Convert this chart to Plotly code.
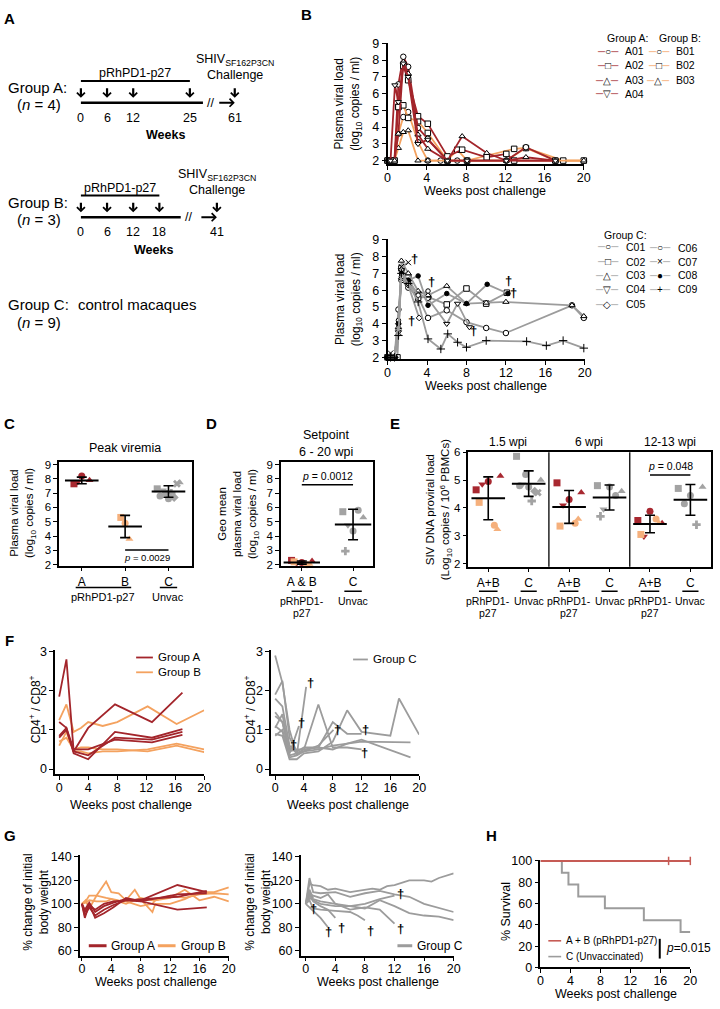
import numpy as np
import plotly.graph_objects as go

W, H = 720, 1009
FONT = "Liberation Sans, Arial, Helvetica, sans-serif"

RED = "#a3252b"
ORANGE = "#f4a25f"
GRAY = "#9c9c9c"
SURV_RED = "#c65b55"
PT_RED = "#a82830"
PT_ORANGE = "#f5b07c"
PT_GRAY = "#a3a3a3"

# ---------------- data ----------------
# A - immunisation schedules (weeks)
SCHED_A_WEEKS = [0, 6, 12, 25]
SCHED_A_CHALLENGE = 61
SCHED_B_WEEKS = [0, 6, 12, 18]
SCHED_B_CHALLENGE = 41

# B - plasma viral load (log10 copies / ml), vaccinated animals
A01_WK = [0, 0.3, 0.7, 1.1, 1.6, 2.1, 3.1, 4.1, 6.1, 8.1, 12.1, 14.1, 17.1]
A01_VL = [2, 2, 2, 6.55, 8.2, 7.6, 3.95, 3.3, 2, 2, 2, 2.8, 2]
A02_WK = [0, 0.3, 0.7, 1.1, 1.6, 2.1, 3.1, 4.1, 6.1, 7.6, 10.1, 12.1, 12.9, 17.1]
A02_VL = [2, 2, 2, 5.2, 7.65, 6.8, 4.65, 4.2, 2.25, 2.65, 2.2, 2.4, 2, 2]
A03_WK = [0, 0.3, 0.7, 1.1, 1.6, 2.1, 3.1, 4.1, 6.1, 7.6, 10.1, 12.1, 14.1, 17.1]
A03_VL = [2, 2, 2, 3.6, 7.9, 7.2, 3.55, 2.7, 2, 3.45, 2.45, 2, 2.2, 2]
A04_WK = [0, 0.3, 0.75, 1.1, 1.6, 2.1, 3.1, 4.1, 6.1, 8.1, 12.1, 17.1]
A04_VL = [2, 2, 6.5, 5.5, 7.8, 7.0, 3.0, 3.25, 2, 2, 2, 2]
B01_WK = [0, 0.3, 0.7, 1.1, 1.6, 2.1, 3.1, 4.1, 5.4, 7.1, 8.1, 12.1, 14.1, 17.1, 20]
B01_VL = [2, 2, 2, 3.6, 4.6, 4.9, 3.1, 2, 2, 2, 2, 2, 2.75, 2, 2]
B02_WK = [0, 0.3, 0.7, 1.1, 1.6, 2.1, 3.1, 4.1, 6.1, 7.1, 8.1, 12.9, 14.1, 17.9, 20]
B02_VL = [2, 2, 2, 5.2, 5.3, 4.55, 4.35, 3.65, 2, 2.65, 2, 2.7, 2.75, 2, 2]
B03_WK = [0, 0.3, 0.7, 1.1, 1.6, 2.1, 3.1, 4.1, 6.1, 8.1, 12.1, 17.1, 20]
B03_VL = [2, 2, 2, 2.75, 3.7, 3.8, 2, 2, 2, 2, 2, 2, 2]

# B - plasma viral load, control animals
C01_WK = [0, 0.3, 0.7, 1.1, 1.4, 2.1, 3.1, 4.1, 6.0, 8.0, 10.0, 12.0, 18.7, 19.9]
C01_VL = [2, 2, 2, 4.85, 6.6, 6.15, 5.6, 4.35, 4.8, 4.1, 3.75, 3.45, 5.1, 4.35]
C02_WK = [0, 0.3, 0.7, 1.0, 1.4, 2.1, 3.1, 4.1, 6.0, 8.0, 10.0, 12.1]
C02_VL = [2, 2, 2, 2, 7.3, 6.75, 5.55, 5.6, 5.15, 6.1, 5.2, 5.85]
C03_WK = [0, 0.3, 0.7, 1.1, 1.4, 2.1, 3.1, 4.1, 6.0, 8.0, 10.0, 12.0, 18.7, 19.9]
C03_VL = [2, 2, 2, 3.8, 7.75, 7.0, 5.95, 5.7, 6.25, 5.2, 5.25, 5.3, 5.1, 4.45]
C04_WK = [0, 0.3, 0.7, 1.1, 1.4, 2.1, 3.1, 4.1, 6.0, 7.1, 8.3]
C04_VL = [2, 2, 2, 3.5, 7.2, 6.5, 5.8, 5.5, 4.0, 5.2, 3.8]
C05_WK = [0, 0.3, 0.7, 1.1, 1.4, 2.1, 3.2]
C05_VL = [2, 2, 2, 4.0, 6.7, 6.3, 4.35]
C06_WK = [0, 0.3, 0.7, 1.1, 1.4, 2.1, 3.1, 4.1]
C06_VL = [2, 2, 2, 4.2, 6.8, 6.4, 5.7, 5.95]
C07_WK = [0, 0.3, 0.7, 1.1, 1.4, 2.1]
C07_VL = [2, 2.25, 2, 3.5, 7.4, 7.65]
C08_WK = [0, 0.3, 0.7, 1.1, 1.4, 2.1, 3.1, 4.1, 6.0, 8.0, 10.1, 12.2]
C08_VL = [2, 2, 2, 4.0, 7.0, 6.6, 6.85, 5.1, 5.8, 5.2, 6.35, 5.8]
C09_WK = [0, 0.3, 0.7, 1.1, 1.4, 2.1, 3.1, 4.1, 5.4, 6.1, 7.1, 8.0, 10.0, 14.1, 16.1, 17.8, 19.9]
C09_VL = [2, 2, 2, 3.3, 7.0, 6.4, 5.3, 3.1, 2.5, 3.4, 2.9, 2.6, 3.0, 2.95, 2.7, 3.0, 2.55]
VL_DEATH_WK = [2.75, 2.45, 4.5, 8.75, 12.25, 12.8]
VL_DEATH_Y = [7.9, 4.2, 6.5, 3.6, 6.6, 5.85]

# C - peak viremia
PEAK_A = [8.2, 7.65, 7.9, 7.8]
PEAK_B = [4.9, 5.3, 3.8]
PEAK_C = [6.6, 7.3, 7.75, 7.2, 6.7, 6.8, 7.65, 7.0, 7.0]
PEAK_CATS = ["A", "B", "C"]

# D - set point (geo mean 6-20 wpi)
SET_AB = [2.15, 2.3, 2.25, 2.1, 2.0, 2.2, 2.05]
SET_C = [4.35, 5.7, 5.3, 4.75, 5.8, 2.95]
SET_C_ANIMALS = ["C01", "C02", "C03", "C04", "C08", "C09"]
SET_CATS = ["A & B", "C"]

# E - SIV DNA proviral load
PV_AB_15 = [4.95, 4.65, 5.15, 4.85, 3.38, 4.2, 3.24]
PV_C_15 = [4.75, 5.85, 5.0, 4.85, 4.6, 4.8, 4.55, 5.2, 4.25]
PV_C_15_ANIMALS = ["C01", "C02", "C03", "C04", "C05", "C06", "C07", "C08", "C09"]
PV_AB_6 = [4.3, 4.9, 4.55, 4.1, 3.45, 3.35, 3.6]
PV_C_6 = [4.75, 4.8, 4.6, 3.95, 4.45, 3.7]
PV_C_6_ANIMALS = ["C01", "C02", "C03", "C04", "C08", "C09"]
PV_AB_12 = [3.88, 3.55, 3.45, 2.98, 3.6, 3.05, 3.45]
PV_C_12 = [4.45, 4.7, 4.75, 4.15, 3.4]
PV_C_12_ANIMALS = ["C01", "C02", "C03", "C08", "C09"]
PV_SECTIONS = ["1.5 wpi", "6 wpi", "12-13 wpi"]
PV_CATS = ["A+B", "C", "A+B", "C", "A+B", "C"]

# F - CD4+/CD8+ ratio
FA_WK = [0, 1, 2, 4, 7.7, 12.8, 17]
FA1 = [1.85, 2.8, 0.45, 1.05, 1.65, 1.2, 1.95]
FA2 = [1.2, 1.05, 0.4, 0.25, 0.95, 0.8, 1.02]
FA3 = [0.8, 1.0, 0.45, 0.35, 0.8, 0.75, 0.95]
FA4 = [0.85, 1.05, 0.5, 0.5, 0.75, 0.68, 0.87]
FB_WK = [0, 1, 2, 3, 4, 6, 8, 12.2, 16.2, 20]
FB1 = [1.25, 1.65, 0.95, 1.05, 1.2, 1.1, 1.2, 1.6, 1.15, 1.5]
FB2 = [0.6, 0.95, 0.45, 0.45, 0.4, 0.45, 0.45, 0.5, 0.65, 0.5]
FB3 = [0.7, 0.8, 0.5, 0.55, 0.55, 0.5, 0.5, 0.45, 0.6, 0.43]
FC01_WK = [0, 1, 2, 3, 4, 6, 8, 10, 12, 16, 17.2, 20]
FC01 = [0.9, 0.85, 0.25, 0.25, 0.4, 0.45, 0.7, 1.5, 0.95, 0.85, 1.8, 0.88]
FC02_WK = [0, 1, 2, 3, 4, 6, 8, 10, 12]
FC02 = [1.9, 2.25, 0.8, 0.45, 0.55, 0.55, 1.2, 0.9, 0.9]
FC03_WK = [0, 1, 2, 3, 4, 6, 8, 10, 12, 18.8]
FC03 = [0.85, 1.0, 0.3, 0.35, 0.45, 0.5, 0.6, 0.65, 0.7, 0.68]
FC04_WK = [0, 1, 2, 3, 4, 6, 8.1]
FC04 = [1.8, 1.6, 0.6, 0.4, 0.45, 0.6, 1.0]
FC05_WK = [0, 1, 2, 3.3]
FC05 = [1.1, 0.95, 0.4, 1.1]
FC06_WK = [0, 1, 2, 3, 4.3]
FC06 = [2.9, 2.2, 1.0, 0.35, 2.1]
FC07_WK = [0, 1, 2, 2.5]
FC07 = [1.35, 1.2, 0.5, 0.55]
FC08_WK = [0, 1, 2, 3, 4, 6, 8, 10, 12]
FC08 = [1.45, 1.2, 0.35, 0.4, 0.5, 1.65, 0.55, 0.55, 0.5]
FC09_WK = [0, 1, 2, 3, 4, 6, 8, 10, 12, 18.8]
FC09 = [1.05, 1.4, 0.45, 0.5, 0.5, 0.55, 0.5, 0.65, 0.75, 0.3]
F_DEATH_WK = [4.9, 3.7, 2.6, 8.6, 12.5, 12.4]
F_DEATH_Y = [2.2, 1.2, 0.62, 1.0, 1.0, 0.42]

# G - body weight (% of initial)
GA_WK = [0, 0.4, 1, 1.8, 3, 4.3, 6, 8, 13, 17]
GA1 = [100, 88, 100, 88, 92, 97, 105, 102, 95, 97]
GA2 = [100, 95, 101, 93, 98, 101, 104, 103, 116, 110]
GA3 = [100, 90, 97, 90, 95, 99, 103, 102, 108, 109]
GA4 = [100, 93, 99, 95, 100, 102, 103, 104, 106, 111]
GB_WK = [0, 0.5, 1, 2, 3.3, 4, 5, 6, 7.2, 8, 9.6, 10, 12, 14, 16, 18, 20]
GB1 = [100, 102, 107, 107, 105, 104, 103, 102, 100, 98, 100, 103, 107, 105, 108, 109, 108]
GB2 = [100, 103, 96, 107, 119, 110, 109, 103, 112, 104, 93, 100, 100, 104, 110, 110, 114]
GB3 = [100, 101, 103, 102, 102, 104, 102, 100, 103, 105, 103, 103, 105, 112, 103, 106, 102]
GC01_WK = [0, 0.5, 1, 2, 3, 4, 6, 8, 9, 10, 11, 12, 14, 16, 17, 18, 20]
GC01 = [100, 117, 116, 115, 112, 113, 110, 112, 113, 112, 115, 116, 120, 120, 119, 122, 126]
GC02_WK = [0, 0.5, 1, 2, 3, 4, 6, 8, 10, 12]
GC02 = [100, 108, 107, 105, 108, 100, 95, 97, 95, 83]
GC03_WK = [0, 0.5, 1, 2, 4, 6, 8, 10, 12, 14, 16, 20]
GC03 = [100, 122, 110, 109, 110, 106, 109, 111, 108, 106, 100, 93]
GC04_WK = [0, 0.5, 1, 2, 4, 6, 7, 8]
GC04 = [100, 103, 96, 95, 94, 93, 90, 86]
GC05_WK = [0, 0.5, 1, 2, 3]
GC05 = [100, 97, 94, 88, 80]
GC06_WK = [0, 0.5, 1, 2, 3, 4]
GC06 = [100, 108, 102, 98, 95, 88]
GC07_WK = [0, 0.5, 1]
GC07 = [100, 112, 105]
GC08_WK = [0, 0.5, 1, 2, 4, 6, 8, 10, 12]
GC08 = [100, 110, 104, 102, 100, 98, 100, 104, 107]
GC09_WK = [0, 0.5, 1, 2, 4, 6, 8, 10, 12, 14, 16, 18, 20]
GC09 = [100, 105, 103, 100, 98, 98, 96, 103, 98, 92, 90, 89, 86]
G_DEATH_WK = [1.1, 3.1, 4.8, 8.8, 12.8, 12.8]
G_DEATH_Y = [96, 76, 80, 77, 109, 79]

# H - survival (%)
SURV_AB_WK = [0, 20]
SURV_AB = [100, 100]
SURV_AB_CENSOR_WK = [17.1, 20]
SURV_C_WK = [0, 2.86, 3.74, 5.05, 8.6, 13.8, 18.7, 20]
SURV_C = [100, 88.9, 77.8, 66.7, 55.6, 44.4, 33.3, 33.3]

# ---------------- styles ----------------
SYM = {"01": "circle", "02": "square", "03": "triangle-up", "04": "triangle-down",
       "05": "diamond", "06": "circle", "07": "x", "08": "circle", "09": "cross"}
GLYPH = {"01": "○", "02": "□", "03": "△", "04": "▽", "05": "◇", "06": "○",
         "07": "×", "08": "●", "09": "+"}


def xa(n):
    return "x" if n == 1 else "x%d" % n


def ya(n):
    return "y" if n == 1 else "y%d" % n


def fx(px):
    return px / W


def fy(py):
    return 1 - py / H


BASE_AX = dict(showline=True, linecolor="black", linewidth=1.6, ticks="outside",
               ticklen=4, tickwidth=1.4, tickcolor="black", showgrid=False,
               zeroline=False, fixedrange=True,
               tickfont=dict(size=12.5, color="black", family=FONT))
axes = {}


def add_axes(n, xd, yd, xr, yr, xkw=None, ykw=None):
    sx = "" if n == 1 else str(n)
    x = dict(BASE_AX, domain=[fx(xd[0]), fx(xd[1])], range=xr, anchor=ya(n))
    y = dict(BASE_AX, domain=[fy(yd[1]), fy(yd[0])], range=yr, anchor=xa(n))
    x.update(xkw or {})
    y.update(ykw or {})
    axes["xaxis" + sx] = x
    axes["yaxis" + sx] = y


WEEK_TICKS = dict(tickmode="array", tickvals=[0, 4, 8, 12, 16, 20])
WEEK_TICKS_TIGHT = dict(WEEK_TICKS, ticklabelstandoff=-3)
VL_TICKS = dict(tickmode="array", tickvals=[2, 3, 4, 5, 6, 7, 8, 9])
SMALL_FONT = dict(size=11.5, color="black", family=FONT)
CAT_FONT = dict(size=12, color="black", family=FONT)

add_axes(1, (390, 589), (37, 160), [0, 20], [1.8, 9.05], WEEK_TICKS_TIGHT, VL_TICKS)
add_axes(2, (390, 590), (236, 358), [0, 20], [1.88, 9.05], WEEK_TICKS_TIGHT, VL_TICKS)
add_axes(3, (57, 192), (462, 567), [-0.52, 2.55], [1.93, 9.17],
         dict(mirror=True, tickmode="array", tickvals=[0, 1, 2], ticktext=PEAK_CATS,
              tickfont=CAT_FONT),
         dict(VL_TICKS, mirror=True, tickfont=SMALL_FONT))
add_axes(4, (282, 375), (462, 567), [-0.404, 1.385], [1.93, 9.17],
         dict(mirror=True, tickmode="array", tickvals=[0, 1], ticktext=SET_CATS,
              tickfont=CAT_FONT),
         dict(VL_TICKS, mirror=True, tickfont=SMALL_FONT))
add_axes(5, (472, 718), (452, 568), [-0.49, 5.51], [1.894, 6.0],
         dict(mirror=True, tickmode="array", tickvals=list(range(6)), ticktext=PV_CATS,
              tickfont=CAT_FONT),
         dict(mirror=True, tickmode="array", tickvals=[2, 3, 4, 5, 6], tickfont=SMALL_FONT))
add_axes(6, (53, 204), (652, 778), [-0.54, 20], [-0.126, 3.05], WEEK_TICKS_TIGHT,
         dict(tickmode="array", tickvals=[0, 1, 2, 3]))
add_axes(7, (272, 422), (652, 778), [-0.55, 20], [-0.126, 3.05], WEEK_TICKS_TIGHT,
         dict(tickmode="array", tickvals=[0, 1, 2, 3]))
add_axes(8, (78, 229), (860, 962), [-0.27, 20], [55.8, 141.7], WEEK_TICKS_TIGHT,
         dict(tickmode="array", tickvals=[60, 80, 100, 120, 140]))
add_axes(9, (302, 457), (860, 962), [-0.67, 20], [55.8, 141.7], WEEK_TICKS_TIGHT,
         dict(tickmode="array", tickvals=[60, 80, 100, 120, 140]))
add_axes(10, (545, 697), (865, 974), [0, 20], [0, 101], WEEK_TICKS_TIGHT,
         dict(tickmode="array", tickvals=[0, 20, 40, 60, 80, 100]))
# hidden week scale for the schedule diagram in panel A
axes["xaxis11"] = dict(domain=[0, fx(270)], range=[-79 / 4.42, 191 / 4.42],
                       visible=False, anchor="y11", fixedrange=True)
axes["yaxis11"] = dict(domain=[fy(300), 1], range=[0, 1], visible=False,
                       anchor="x11", fixedrange=True)

fig = go.Figure()
ANN = []
SHP = []


def text(px, py, s, size=12.5, anchor="center", angle=0, color="black"):
    ANN.append(dict(x=fx(px), y=fy(py), xref="paper", yref="paper", text=s,
                    showarrow=False, xanchor=anchor, yanchor="middle", textangle=angle,
                    font=dict(size=size, color=color, family=FONT)))


def text_ax(n, x, py, s, size=12.5, anchor="center"):
    ANN.append(dict(x=x, y=fy(py), xref=xa(n), yref="paper", text=s, showarrow=False,
                    xanchor=anchor, yanchor="middle",
                    font=dict(size=size, color="black", family=FONT)))


def line_px(x0, y0, x1, y1, color="black", width=1.5):
    SHP.append(dict(type="line", xref="paper", yref="paper", x0=fx(x0), x1=fx(x1),
                    y0=fy(y0), y1=fy(y1), line=dict(color=color, width=width)))


def hline_ax(n, x0, x1, py, width=1.5):
    SHP.append(dict(type="line", xref=xa(n), yref="paper", x0=x0, x1=x1,
                    y0=fy(py), y1=fy(py), line=dict(color="black", width=width)))


def daggers(n, xs, ys, size=13):
    for x, y in zip(xs, ys):
        ANN.append(dict(x=x, y=y, xref=xa(n), yref=ya(n), text="<b>†</b>", showarrow=False,
                        font=dict(size=size, color="black", family=FONT)))


def arrow(x, py, ax, ay):
    ANN.append(dict(x=x, y=fy(py), xref="x11", yref="paper", ax=ax, ay=ay,
                    text="", showarrow=True, arrowhead=4, arrowsize=0.7,
                    arrowwidth=2.2, arrowcolor="black"))


# ---------------- A: schedule ----------------
def schedule(weeks, challenge, chal_x, line_end, y0, group, n_txt):
    # y0 = pixel row of the timeline
    bar_y, lab_y, arr_head, tick_y = y0 - 22, y0 - 30, y0 - 5, y0 + 15
    text(3, y0 - 15, group, size=15, anchor="left")
    text(12, y0 + 2, n_txt, size=15, anchor="left")
    SHP.append(dict(type="line", xref="x11", yref="paper", x0=weeks[0], x1=weeks[-1],
                    y0=fy(bar_y), y1=fy(bar_y), line=dict(color="black", width=2)))
    text_ax(11, (weeks[0] + weeks[-1]) / 2, lab_y, "pRhPD1-p27", size=12.5)
    for w in weeks + [chal_x]:
        arrow(w, arr_head, 0, -11)
    for w in weeks:
        text_ax(11, w, tick_y, str(w), size=12.5)
    text_ax(11, chal_x, tick_y, str(challenge), size=12.5)
    SHP.append(dict(type="line", xref="x11", yref="paper", x0=weeks[0], x1=line_end,
                    y0=fy(y0), y1=fy(y0), line=dict(color="black", width=2.4)))
    text_ax(11, line_end + 1.8, y0, "//", size=12.5)
    arrow(chal_x, y0, -17, 0)
    text_ax(11, chal_x, y0 - 43, "SHIV<sub>SF162P3CN</sub>", size=12.5)
    text_ax(11, chal_x, y0 - 28, "Challenge", size=12.5)


schedule(SCHED_A_WEEKS, SCHED_A_CHALLENGE, 35.3, 28.0, 98, "Group A:", "(<i>n</i> = 4)")
text(165, 131, "<b>Weeks</b>", size=12.5)
schedule(SCHED_B_WEEKS, SCHED_B_CHALLENGE, 31.2, 22.9, 214, "Group B:", "(<i>n</i> = 3)")
text(153, 247, "<b>Weeks</b>", size=12.5)
text(3, 302, "Group C:", size=15, anchor="left")
text(74, 302, "control macaques", size=15, anchor="left")
text(12, 321, "(<i>n</i> = 9)", size=15, anchor="left")


# ---------------- B: viral load ----------------
def vl_trace(n, wk, vl, color, key, fill="white", size=6):
    fig.add_trace(go.Scatter(
        x=wk, y=vl, mode="lines+markers", xaxis=xa(n), yaxis=ya(n),
        line=dict(color=color, width=1.8),
        marker=dict(symbol=SYM[key] if key != "07" else "x-thin", size=size, color=fill,
                    line=dict(color="black", width=1)),
        showlegend=False, cliponaxis=False, hoverinfo="skip"))


VAX_SERIES = [("01", B01_WK, B01_VL, ORANGE), ("02", B02_WK, B02_VL, ORANGE),
              ("03", B03_WK, B03_VL, ORANGE), ("01", A01_WK, A01_VL, RED),
              ("02", A02_WK, A02_VL, RED), ("03", A03_WK, A03_VL, RED),
              ("04", A04_WK, A04_VL, RED)]
for key, wk, vl, col in VAX_SERIES:
    vl_trace(1, wk, vl, col, key, size=5.5)

CTRL_SERIES = [("01", C01_WK, C01_VL), ("02", C02_WK, C02_VL), ("03", C03_WK, C03_VL),
               ("04", C04_WK, C04_VL), ("05", C05_WK, C05_VL), ("06", C06_WK, C06_VL),
               ("07", C07_WK, C07_VL), ("08", C08_WK, C08_VL), ("09", C09_WK, C09_VL)]
for key, wk, vl in CTRL_SERIES:
    if key == "09":
        fig.add_trace(go.Scatter(x=wk, y=vl, mode="lines+markers", xaxis="x2", yaxis="y2",
                                 line=dict(color=GRAY, width=1.8),
                                 marker=dict(symbol="cross-thin", size=6,
                                             line=dict(color="black", width=1)),
                                 showlegend=False, cliponaxis=False, hoverinfo="skip"))
    else:
        vl_trace(2, wk, vl, GRAY, key, fill="black" if key == "08" else "white",
                 size=4.5 if key in ("05", "06", "08") else 5.5)
daggers(2, VL_DEATH_WK, VL_DEATH_Y)

for cy in (99, 297):
    text(350, cy, "Plasma viral load<br>(log<sub>10</sub> copies / ml)", size=12, angle=-90)
text(489, 187, "Weeks post challenge", size=12.5)
text(490, 385, "Weeks post challenge", size=12.5)


def glyph(color, key):
    dash = '<span style="color:%s">─</span>' % color
    return dash + GLYPH[key] + dash


text(610, 32, "Group A:", size=10.5, anchor="left")
text(663, 32, "Group B:", size=10.5, anchor="left")
for i, py in enumerate([46, 60, 75, 89]):
    k = "0%d" % (i + 1)
    text(627, py, glyph(RED, k), size=10, anchor="right")
    text(629, py, "A" + k, size=10.5, anchor="left")
    if i < 3:
        text(678, py, glyph(ORANGE, k), size=10, anchor="right")
        text(680, py, "B" + k, size=10.5, anchor="left")
text(607, 232, "Group C:", size=10.5, anchor="left")
for i, py in enumerate([244, 259, 273, 287, 302]):
    k = "0%d" % (i + 1)
    text(627, py, glyph(GRAY, k), size=10, anchor="right")
    text(630, py, "C" + k, size=10.5, anchor="left")
for i, py in enumerate([245, 259, 273, 287]):
    k = "0%d" % (i + 6)
    text(679, py, glyph(GRAY, k), size=10, anchor="right")
    text(682, py, "C" + k, size=10.5, anchor="left")


# ---------------- C / D / E: dot plots ----------------
SPREAD = [0, -1, 1, -0.5, 0.5, -0.75, 0.75, -0.25, 0.25]


def dots(n, center, vals, syms, colors, half_width, bar=24):
    offs = [center + half_width * s for s in SPREAD[:len(vals)]]
    fig.add_trace(go.Scatter(x=offs, y=vals, mode="markers", xaxis=xa(n), yaxis=ya(n),
                             marker=dict(symbol=syms, color=colors, size=7,
                                         line=dict(width=0)),
                             showlegend=False, cliponaxis=False, hoverinfo="skip"))
    m = float(np.mean(vals))
    s = float(np.std(vals, ddof=1))
    fig.add_trace(go.Scatter(x=[center], y=[m], mode="markers", xaxis=xa(n), yaxis=ya(n),
                             marker=dict(symbol="line-ew", size=bar,
                                         line=dict(color="black", width=2)),
                             error_y=dict(type="data", array=[s], color="black",
                                          thickness=1.6, width=5),
                             showlegend=False, cliponaxis=False, hoverinfo="skip"))


AB_SYMS = [SYM["01"], SYM["02"], SYM["03"], SYM["04"], SYM["01"], SYM["02"], SYM["03"]]
AB_COLS = [PT_RED] * 4 + [PT_ORANGE] * 3
ALL_C = ["C01", "C02", "C03", "C04", "C05", "C06", "C07", "C08", "C09"]


def c_syms(animals):
    return [SYM[a[1:]] for a in animals]


dots(3, 0, PEAK_A, AB_SYMS[:4], AB_COLS[:4], 0.18)
dots(3, 1, PEAK_B, AB_SYMS[4:], AB_COLS[4:], 0.1)
dots(3, 2, PEAK_C, c_syms(ALL_C), [PT_GRAY] * 9, 0.26)

dots(4, 0, SET_AB, AB_SYMS, AB_COLS, 0.2, bar=26)
dots(4, 1, SET_C, c_syms(SET_C_ANIMALS), [PT_GRAY] * 6, 0.2, bar=26)

for i, (ab, cc, ca) in enumerate([(PV_AB_15, PV_C_15, PV_C_15_ANIMALS),
                                  (PV_AB_6, PV_C_6, PV_C_6_ANIMALS),
                                  (PV_AB_12, PV_C_12, PV_C_12_ANIMALS)]):
    dots(5, 2 * i, ab, AB_SYMS, AB_COLS, 0.3, bar=24)
    dots(5, 2 * i + 1, cc, c_syms(ca), [PT_GRAY] * len(cc), 0.3, bar=24)
    text_ax(5, 2 * i + 0.5, 442, PV_SECTIONS[i], size=12)
    hline_ax(5, 2 * i - 0.23, 2 * i + 0.23, 593)
    hline_ax(5, 2 * i + 0.8, 2 * i + 1.2, 593)
    text_ax(5, 2 * i, 603, "pRhPD1-", size=10.5)
    text_ax(5, 2 * i, 615, "p27", size=10.5)
    text_ax(5, 2 * i + 1, 603, "Unvac", size=10.5)
for xdiv in (1.5, 3.5):
    SHP.append(dict(type="line", xref="x5", yref="y5 domain", x0=xdiv, x1=xdiv, y0=0, y1=1,
                    line=dict(color="black", width=1.3)))

# C annotations
text(124, 448, "Peak viremia", size=12.5)
text(20, 514, "Plasma viral load<br>(log<sub>10</sub> copies / ml)", size=11.5, angle=-90)
hline_ax(3, 1, 2, 551)
text_ax(3, 1.5, 559, "<i>p</i> = 0.0029", size=9.5)
hline_ax(3, -0.14, 1.14, 589)
hline_ax(3, 1.8, 2.2, 589)
text_ax(3, 0.5, 599, "pRhPD1-p27", size=11)
text_ax(3, 2, 599, "Unvac", size=11)

# D annotations
text(328, 435, "Setpoint", size=12.5)
text(328, 452, "6 - 20 wpi", size=12.5)
text(239, 515, "Geo mean<br>plasma viral load<br>(log<sub>10</sub> copies / ml)", size=11.5,
     angle=-90)
hline_ax(4, 0, 1, 485)
text_ax(4, 0.5, 476, "<i>p</i> = 0.0012", size=10.5)
hline_ax(4, -0.2, 0.2, 593)
hline_ax(4, 0.83, 1.17, 593)
text_ax(4, 0, 603, "pRhPD1-", size=10.5)
text_ax(4, 0, 615, "p27", size=10.5)
text_ax(4, 1, 603, "Unvac", size=10.5)

# E annotations
text(442, 510, "SIV DNA proviral load<br>(Log<sub>10</sub> copies / 10<sup>6</sup> PBMCs)",
     size=11.5, angle=-90)
hline_ax(5, 4, 5, 475)
text_ax(5, 4.5, 466, "<i>p</i> = 0.048", size=10.5)


# ---------------- F: CD4/CD8 ----------------
def lines(n, wk, ys, color, width=1.8):
    fig.add_trace(go.Scatter(x=wk, y=ys, mode="lines", xaxis=xa(n), yaxis=ya(n),
                             line=dict(color=color, width=width), showlegend=False,
                             cliponaxis=False, hoverinfo="skip"))


for ys in (FB1, FB2, FB3):
    lines(6, FB_WK, ys, ORANGE)
for ys in (FA1, FA2, FA3, FA4):
    lines(6, FA_WK, ys, RED)
for wk, ys in ((FC01_WK, FC01), (FC02_WK, FC02), (FC03_WK, FC03), (FC04_WK, FC04),
               (FC05_WK, FC05), (FC06_WK, FC06), (FC07_WK, FC07), (FC08_WK, FC08),
               (FC09_WK, FC09)):
    lines(7, wk, ys, GRAY)
daggers(7, F_DEATH_WK, F_DEATH_Y)
text(32, 713, "CD4<sup>+</sup> / CD8<sup>+</sup>", size=12, angle=-90)
text(250, 713, "CD4<sup>+</sup> / CD8<sup>+</sup>", size=12, angle=-90)
text(130, 809, "Weeks post challenge", size=12.5)
text(350, 809, "Weeks post challenge", size=12.5)
line_px(135, 660, 152, 660, RED, 1.8)
text(155, 660, "Group A", size=11.5, anchor="left")
line_px(135, 675, 152, 675, ORANGE, 1.8)
text(155, 675, "Group B", size=11.5, anchor="left")
line_px(355, 662, 370, 662, GRAY, 1.8)
text(373, 662, "Group C", size=11.5, anchor="left")

# ---------------- G: body weight ----------------
for ys in (GB1, GB2, GB3):
    lines(8, GB_WK, ys, ORANGE)
for ys in (GA1, GA2, GA3, GA4):
    lines(8, GA_WK, ys, RED)
for wk, ys in ((GC01_WK, GC01), (GC02_WK, GC02), (GC03_WK, GC03), (GC04_WK, GC04),
               (GC05_WK, GC05), (GC06_WK, GC06), (GC07_WK, GC07), (GC08_WK, GC08),
               (GC09_WK, GC09)):
    lines(9, wk, ys, GRAY)
daggers(9, G_DEATH_WK, G_DEATH_Y)
text(34, 908, "% change of initial<br>body weight", size=12, angle=-90)
text(259, 908, "% change of initial<br>body weight", size=12, angle=-90)
text(155, 989, "Weeks post challenge", size=12.5)
text(380, 989, "Weeks post challenge", size=12.5)
line_px(87, 952, 105, 952, RED, 3)
text(107, 952, "Group A", size=12, anchor="left")
line_px(157, 952, 175, 952, ORANGE, 3)
text(178, 952, "Group B", size=12, anchor="left")
line_px(400, 952, 415, 952, GRAY, 3)
text(418, 952, "Group C", size=12, anchor="left")

# ---------------- H: survival ----------------
fig.add_trace(go.Scatter(x=SURV_C_WK, y=SURV_C, mode="lines", line_shape="hv",
                         xaxis="x10", yaxis="y10", line=dict(color=GRAY, width=2),
                         showlegend=False, cliponaxis=False, hoverinfo="skip"))
fig.add_trace(go.Scatter(x=SURV_AB_WK, y=SURV_AB, mode="lines", xaxis="x10", yaxis="y10",
                         line=dict(color=SURV_RED, width=2), showlegend=False,
                         cliponaxis=False, hoverinfo="skip"))
fig.add_trace(go.Scatter(x=SURV_AB_CENSOR_WK, y=[SURV_AB[-1]] * len(SURV_AB_CENSOR_WK),
                         mode="markers", xaxis="x10", yaxis="y10",
                         marker=dict(symbol="line-ns", size=6,
                                     line=dict(color=SURV_RED, width=1.5)),
                         showlegend=False, cliponaxis=False, hoverinfo="skip"))
text(510, 917, "% Survival", size=12.5, angle=-90)
text(622, 1001, "Weeks post challenge", size=12.5)
line_px(553, 947, 566, 947, SURV_RED, 1.6)
text(569, 947, "A + B (pRhPD1-p27)", size=10, anchor="left")
line_px(553, 963, 566, 963, GRAY, 1.6)
text(569, 963, "C (Unvaccinated)", size=10, anchor="left")
line_px(666, 945, 666, 965, "black", 2)
text(670, 954, "<i>p</i>=0.015", size=12, anchor="left")

# ---------------- panel letters ----------------
for letter, px, py in (("A", 7, 13), ("B", 308, 9), ("C", 7, 423), ("D", 211, 423),
                       ("E", 398, 423), ("F", 7, 643), ("G", 7, 840), ("H", 495, 840)):
    text(px, py, "<b>%s</b>" % letter, size=15)

fig.update_layout(width=W, height=H, margin=dict(l=0, r=0, t=0, b=0),
                  paper_bgcolor="white", plot_bgcolor="white",
                  font=dict(family=FONT, color="black"), showlegend=False,
                  annotations=ANN, shapes=SHP, **axes)

fig.write_html("out.html", config={"displayModeBar": False},
               post_script="document.body.style.margin='0';")
